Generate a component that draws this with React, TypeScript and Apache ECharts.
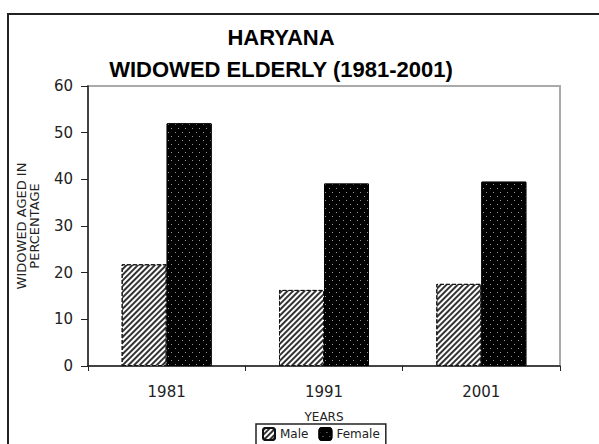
import React, { useEffect, useRef } from "react";
import * as echarts from "echarts";

const categories = ["1981", "1991", "2001"];
const maleValues = [21.8, 16.3, 17.6];
const femaleValues = [52.0, 39.1, 39.5];
const yTicks = { min: 0, max: 60, interval: 10 };

export default function App() {
  const ref = useRef<HTMLDivElement>(null);
  useEffect(() => {
    if (!ref.current) return;
    const chart = echarts.init(ref.current, undefined, { renderer: "svg" });
    const labelFont = "DejaVu Sans";
    chart.setOption({
      animation: false,
      backgroundColor: "#fff",
      title: {
        text: "HARYANA\nWIDOWED ELDERLY (1981-2001)",
        left: 281,
        textAlign: "center",
        top: 21,
        padding: 0,
        textStyle: {
          fontFamily: "Liberation Sans",
          fontWeight: "bold",
          fontSize: 22,
          lineHeight: 32,
          color: "#000",
        },
      },
      graphic: [
        {
          type: "rect",
          shape: { x: 8, y: 14, width: 800, height: 600 },
          style: { fill: "none", stroke: "#222", lineWidth: 2 },
          silent: true,
        },
      ],
      legend: {
        data: ["Male", "Female"],
        left: 256,
        top: 424,
        padding: [3, 6, 4, 6],
        itemGap: 10,
        itemWidth: 12,
        itemHeight: 12,
        borderColor: "#222",
        borderWidth: 1.5,
        textStyle: { fontFamily: labelFont, fontSize: 12, color: "#222" },
      },
      grid: {
        left: 88,
        top: 86,
        right: 39,
        bottom: 78,
        show: true,
        borderColor: "#aaa",
        borderWidth: 2,
      },
      xAxis: {
        type: "category",
        data: categories,
        name: "YEARS",
        nameLocation: "middle",
        nameGap: 45,
        nameTextStyle: { fontFamily: labelFont, fontSize: 12, color: "#222" },
        axisLine: { lineStyle: { color: "#222", width: 1.5 } },
        axisTick: { show: true, length: 5, lineStyle: { color: "#222" } },
        axisLabel: { margin: 18, fontFamily: labelFont, fontSize: 15, color: "#222" },
      },
      yAxis: {
        type: "value",
        min: yTicks.min,
        max: yTicks.max,
        interval: yTicks.interval,
        name: "WIDOWED AGED IN\nPERCENTAGE",
        nameLocation: "middle",
        nameRotate: 90,
        nameGap: 47,
        nameTextStyle: { fontFamily: labelFont, fontSize: 13, lineHeight: 13, color: "#222" },
        splitLine: { show: false },
        axisLine: { show: true, lineStyle: { color: "#222", width: 1.5 } },
        axisTick: { show: true, length: 7, lineStyle: { color: "#222" } },
        axisLabel: { margin: 15, fontFamily: labelFont, fontSize: 15, color: "#222" },
      },
      series: [
        {
          name: "Male",
          type: "bar",
          data: maleValues,
          barWidth: 45,
          barGap: "0%",
          itemStyle: {
            color: "#fff",
            borderColor: "#111",
            borderWidth: 1,
            borderType: "dashed",
            decal: {
              symbol: "rect",
              dashArrayX: [1, 0],
              dashArrayY: [2, 2],
              rotation: -Math.PI / 4,
              color: "#333",
            },
          },
        },
        {
          name: "Female",
          type: "bar",
          data: femaleValues,
          barWidth: 45,
          itemStyle: {
            color: "#000",
            borderColor: "#000",
            borderWidth: 1,
            decal: {
              symbol: "rect",
              symbolSize: 1,
              dashArrayX: [[1, 6], [0, 3, 1, 3]],
              dashArrayY: [1, 3],
              color: "#999",
            },
          },
        },
      ],
    });
    return () => chart.dispose();
  }, []);
  return (
    <div
      ref={ref}
      style={{ position: "fixed", left: 0, top: 0, width: 599, height: 444 }}
    />
  );
}
